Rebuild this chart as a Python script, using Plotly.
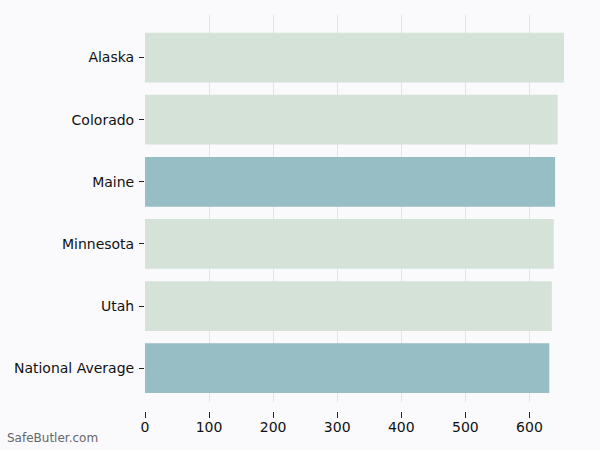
import plotly.graph_objects as go

states = ["Alaska", "Colorado", "Maine", "Minnesota", "Utah", "National Average"]
scores = [654, 644, 640, 638, 635, 631]
colors = ["#d4e2d8", "#d4e2d8", "#97bdc5", "#d4e2d8", "#d4e2d8", "#97bdc5"]
xticks = [0, 100, 200, 300, 400, 500, 600]

bg = "#fafafd"

fig = go.Figure()
fig.add_trace(go.Bar(
    x=scores, y=states, orientation="h",
    marker=dict(color=colors, line=dict(width=0)),
    width=0.8, hoverinfo="x+y",
))

fig.update_layout(
    width=600, height=450,
    margin=dict(l=145, r=15, t=15, b=20),
    paper_bgcolor=bg, plot_bgcolor=bg,
    font=dict(family="DejaVu Sans", size=14, color="#111111"),
    showlegend=False,
    xaxis=dict(
        range=[0, 686.7], tickvals=xticks,
        showgrid=True, gridcolor="#e3e3e8", gridwidth=1,
        zeroline=False, showline=False,
        ticks="outside", ticklen=6, tickcolor="#222222", tickwidth=1,
        ticklabelstandoff=-3,
        anchor="free", position=0.046,
    ),
    yaxis=dict(
        categoryorder="array", categoryarray=states[::-1],
        range=[-0.54, 5.685], domain=[0.068, 1],
        showgrid=False, zeroline=False, showline=False,
        ticks="outside", ticklen=5, tickcolor="#222222", tickwidth=1,
        ticklabelstandoff=2,
    ),
    annotations=[dict(
        text="SafeButler.com", xref="paper", yref="paper",
        x=-140 / 440, y=-0.02, xanchor="left", yanchor="middle",
        showarrow=False, font=dict(size=12, color="#666666"),
    )],
)

# drop the page's default body margin so the chart sits at the corner
fig.write_html("out.html", config={"displayModeBar": False},
               post_script="document.body.style.margin='0';")
